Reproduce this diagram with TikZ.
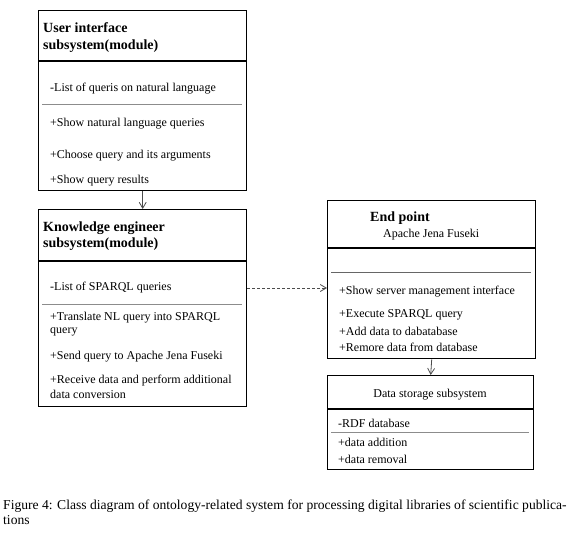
\documentclass[tikz,border=0pt]{standalone}
\usepackage{fontspec}
\setmainfont{Liberation Serif}
\usetikzlibrary{arrows.meta}
\begin{document}
\begin{tikzpicture}[x=1pt,y=-1pt,
  box/.style={draw=black,line width=1.4pt,anchor=north west,inner sep=0pt},
  hsep/.style={draw=black,line width=1.4pt},
  gsep/.style={draw=black!45,line width=0.8pt},
  item/.style={anchor=base west,inner sep=0pt,font=\fontsize{12}{14}\selectfont},
  captxt/.style={anchor=base west,inner sep=0pt,font=\fontsize{13.6}{16}\selectfont},
  ttl/.style={anchor=base west,inner sep=0pt,font=\fontsize{14}{16}\selectfont\bfseries},
  arr/.style={draw=black!70,line width=0.8pt,-{Straight Barb[length=6pt,width=7pt]}},
  dasharr/.style={arr,dashed,dash pattern=on 3pt off 2pt}]
\useasboundingbox (0,0) rectangle (580,533);
\fill[white] (0,0) rectangle (580,533);
% Box 1
\node[box,minimum width=208,minimum height=180] (b1) at (38,10) {};
\draw[hsep] (38,61) -- (246,61);
\node[ttl] (t1a) at (43,32) {User interface};
\node[ttl] (t1b) at (43,49) {subsystem(module)};
\node[item] (i1a) at (50,91) {-List of queris on natural language};
\draw[gsep] (42,104) -- (242,104);
\node[item] (i1b) at (50,126) {+Show natural language queries};
\node[item] (i1c) at (50,158) {+Choose query and its arguments};
\node[item] (i1d) at (50,183) {+Show query results};
% Box 2
\node[box,minimum width=208,minimum height=197] (b2) at (38,209) {};
\draw[hsep] (38,261) -- (246,261);
\node[ttl] (t2a) at (43,231) {Knowledge engineer};
\node[ttl] (t2b) at (43,247) {subsystem(module)};
\node[item] (i2a) at (50,290) {-List of SPARQL queries};
\draw[gsep] (42,304) -- (242,304);
\node[item] (i2b) at (50,320) {+Translate NL query into SPARQL};
\node[item] (i2c) at (50,333) {query};
\node[item] (i2d) at (50,359) {+Send query to Apache Jena Fuseki};
\node[item] (i2e) at (50,383) {+Receive data and perform additional};
\node[item] (i2f) at (50,398) {data conversion};
% Box 3
\node[box,minimum width=208,minimum height=158] (b3) at (327,200) {};
\draw[hsep] (327,248) -- (535,248);
\node[ttl] (t3a) at (370,221) {End point};
\node[item] (t3b) at (383,237) {Apache Jena Fuseki};
\draw[draw=black!60,line width=0.9pt] (331,272) -- (531,272);
\node[item] (i3a) at (339,294) {+Show server management interface};
\node[item] (i3b) at (339,317) {+Execute SPARQL query};
\node[item] (i3c) at (339,335) {+Add data to dabatabase};
\node[item] (i3d) at (339,351) {+Remore data from database};
% Box 4
\node[box,minimum width=206,minimum height=94] (b4) at (327,375) {};
\draw[hsep] (327,409) -- (533,409);
\node[item,anchor=base] (t4) at (430,397) {Data storage subsystem};
\node[item] (i4a) at (338,427) {-RDF database};
\draw[gsep] (331,432) -- (529,432);
\node[item] (i4b) at (338,446) {+data addition};
\node[item] (i4c) at (338,463) {+data removal};
% connectors
\coordinate (dy) at (0,288);
\draw[arr] (b1.south) -- (b2.north);
\draw[arr] (b3.south) -- (b4.north);
\draw[dasharr] (b2.east |- dy) -- (b3.west |- dy);
% caption
\node[captxt] (c1) at (3,509) {Figure 4: Class diagram of ontology-related system for processing digital libraries of scientific publica-};
\node[captxt] (c2) at (3,524) {tions};
\end{tikzpicture}
\end{document}
